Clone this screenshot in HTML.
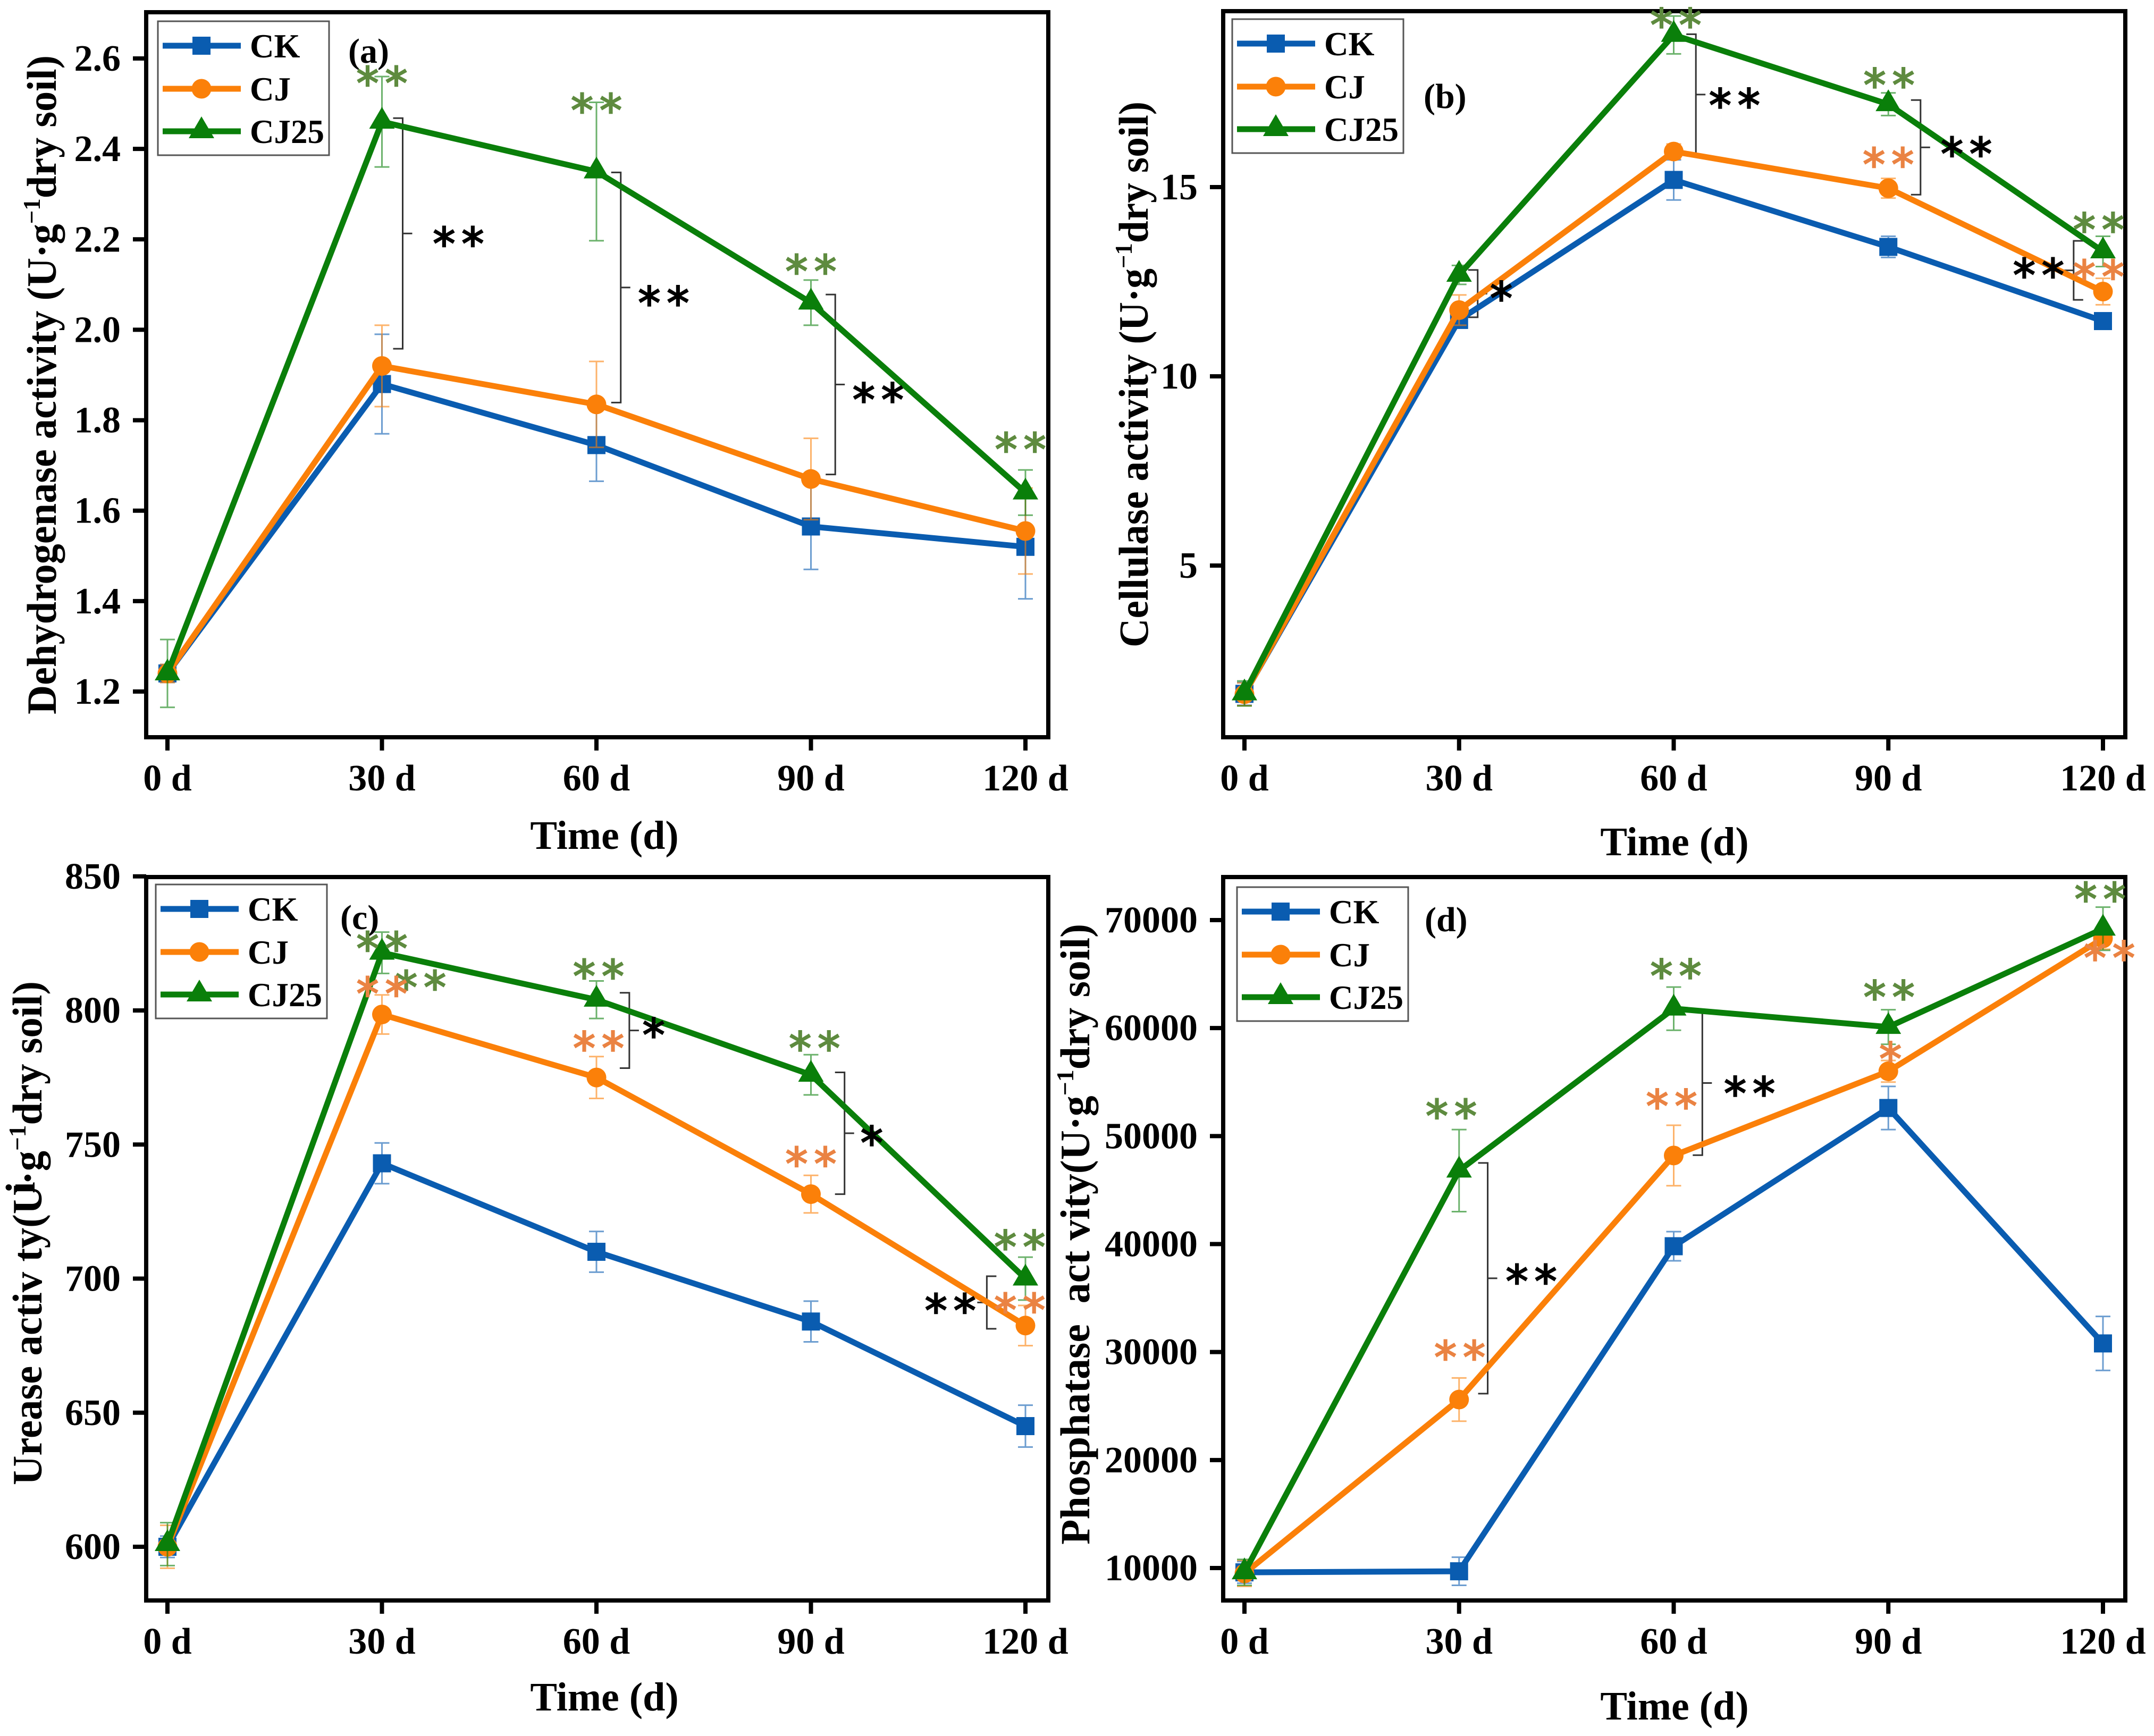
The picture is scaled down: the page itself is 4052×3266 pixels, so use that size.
<!DOCTYPE html>
<html lang="en">
<head>
<meta charset="utf-8">
<title>Soil enzyme activity charts</title>
<style>
html,body{margin:0;padding:0;background:#fff;}
svg{display:block;}
text{font-family:"Liberation Serif",serif;font-weight:bold;fill:#000;}
.star{font-family:"DejaVu Sans",sans-serif;font-weight:normal;font-size:84px;letter-spacing:12px;stroke-width:2.5px;}
.title{font-size:78px;}
.tick{font-size:70px;}
.time{font-size:76px;}
.leg{font-size:63px;}
.plab{font-size:66px;}
</style>
</head>
<body>
<svg id="fig" xmlns="http://www.w3.org/2000/svg" width="4052" height="3266" viewBox="0 0 4052 3266">
<rect x="0" y="0" width="4052" height="3266" fill="#fff"/>

<text class="title" transform="translate(105,1344) rotate(-90)" textLength="1240" lengthAdjust="spacingAndGlyphs">Dehydrogenase activity (U·g<tspan font-size="46" dy="-30">−1</tspan><tspan dy="30">dry soil)</tspan></text>
<text class="title" transform="translate(2159,1218) rotate(-90)" textLength="1027" lengthAdjust="spacingAndGlyphs">Cellulase activity (U·g<tspan font-size="46" dy="-30">−1</tspan><tspan dy="30">dry soil)</tspan></text>
<text class="title" transform="translate(78,2794) rotate(-90)" textLength="948" lengthAdjust="spacingAndGlyphs">Urease activ ty(U·g<tspan font-size="46" dy="-30">−1</tspan><tspan dy="30">dry soil)</tspan></text>
<text class="title" transform="translate(65,2245) rotate(-90)">i</text>
<text class="title" xml:space="preserve" transform="translate(2049,2906) rotate(-90)" textLength="1168" lengthAdjust="spacingAndGlyphs">Phosphatase  act vity(U·g<tspan font-size="46" dy="-30">−1</tspan><tspan dy="30">dry soil)</tspan></text>

<text class="time" x="1137" y="1597" text-anchor="middle">Time (d)</text>
<text class="time" x="3150" y="1609" text-anchor="middle">Time (d)</text>
<text class="time" x="1137" y="3218" text-anchor="middle">Time (d)</text>
<text class="time" x="3150" y="3235" text-anchor="middle">Time (d)</text>

<text class="plab" x="655" y="118">(a)</text>
<text class="plab" x="2678" y="203">(b)</text>
<text class="plab" x="640" y="1748">(c)</text>
<text class="plab" x="2680" y="1752">(d)</text>

<g id="plots"></g>
<g id="legends"></g>
</svg>

<script>
const days = [0, 30, 60, 90, 120];
const xTickLabels = ['0 d', '30 d', '60 d', '90 d', '120 d'];
const legendLabels = ['CK', 'CJ', 'CJ25'];

// Panel (a) dehydrogenase
const aTicks = [1.2, 1.4, 1.6, 1.8, 2.0, 2.2, 2.4, 2.6];
const aTickLabels = ['1.2', '1.4', '1.6', '1.8', '2.0', '2.2', '2.4', '2.6'];
const aCK = [1.24, 1.88, 1.745, 1.565, 1.52];
const aCJ = [1.24, 1.92, 1.835, 1.67, 1.555];
const aCJ25 = [1.24, 2.46, 2.35, 2.06, 1.64];
const aCKErr = [0.02, 0.11, 0.08, 0.095, 0.115];
const aCJErr = [0.02, 0.09, 0.095, 0.09, 0.095];
const aCJ25Err = [0.075, 0.10, 0.153, 0.05, 0.05];
const aGreenStars = [[30, 2.56, 2], [60, 2.50, 2], [90, 2.144, 2], [119.3, 1.75, 2]];
const aOrangeStars = [];
const aBlackStars = [[40.7, 2.205, 2], [69.4, 2.074, 2], [99.4, 1.86, 2]];
const aBrackets = [[32.9, 2.468, 1.958, 1], [63.4, 2.348, 1.839, 1], [93.4, 2.078, 1.68, 1]];

// Panel (b) cellulase
const bTicks = [5, 10, 15];
const bTickLabels = ['5', '10', '15'];
const bCK = [1.61, 11.49, 15.19, 13.42, 11.46];
const bCJ = [1.6, 11.75, 15.94, 14.97, 12.24];
const bCJ25 = [1.62, 12.68, 19.02, 17.19, 13.3];
const bCKErr = [0.3, 0.2, 0.53, 0.28, 0.15];
const bCJErr = [0.3, 0.4, 0.2, 0.26, 0.35];
const bCJ25Err = [0.33, 0.25, 0.5, 0.3, 0.4];
const bGreenStars = [[60.3, 19.46, 2], [90.1, 17.87, 2], [119.4, 14.05, 2]];
const bOrangeStars = [[90, 15.77, 2], [119.4, 12.81, 2]];
const bBlackStars = [[35.9, 12.24, 1], [68.5, 17.34, 2], [100.9, 16.05, 2], [111, 12.85, 2]];
const bBrackets = [[32.6, 12.81, 11.56, 1], [63.1, 19.04, 15.85, 1], [94.5, 17.3, 14.8, 1], [115.9, 13.58, 12.02, -1]];

// Panel (c) urease
const cTicks = [600, 650, 700, 750, 800, 850];
const cTickLabels = ['600', '650', '700', '750', '800', '850'];
const cCK = [600, 743, 710, 684, 645];
const cCJ = [600, 798.5, 775, 731.5, 682.5];
const cCJ25 = [601, 821.5, 804, 776, 700];
const cCKErr = [4, 7.6, 7.6, 7.6, 7.8];
const cCJErr = [8, 7.3, 7.8, 7, 7.5];
const cCJ25Err = [8, 7.7, 7, 7.5, 8];
const cGreenStars = [[30, 825.6, 2], [35.4, 811.1, 2], [60.3, 815.3, 2], [90.5, 788.4, 2], [119.2, 714.3, 2]];
const cOrangeStars = [[30, 808.7, 2], [60.3, 788.4, 2], [90, 745.3, 2], [119.2, 690.8, 2]];
const cBlackStars = [[68, 793.4, 1], [98.5, 753.1, 1], [109.5, 690.6, 2]];
const cBrackets = [[64.6, 806.6, 778.5, 1], [94.7, 776.9, 731.5, 1], [114.6, 700.9, 681.3, -1]];

// Panel (d) phosphatase
const dTicks = [10000, 20000, 30000, 40000, 50000, 60000, 70000];
const dTickLabels = ['10000', '20000', '30000', '40000', '50000', '60000', '70000'];
const dCK = [9600, 9700, 39800, 52600, 30800];
const dCJ = [9500, 25600, 48200, 56000, 68300];
const dCJ25 = [9600, 46800, 61800, 60100, 69200];
const dCKErr = [1000, 1300, 1350, 2000, 2500];
const dCJErr = [1200, 2000, 2800, 1000, 1000];
const dCJ25Err = [1200, 3800, 2000, 1600, 2000];
const dGreenStars = [[28.9, 52480, 2], [60.3, 65440, 2], [90.1, 63490, 2], [119.6, 72560, 2]];
const dOrangeStars = [[30.1, 30140, 2], [59.7, 53400, 2], [90.3, 57760, 1], [120.9, 67130, 2]];
const dBlackStars = [[40.1, 37160, 2], [70.6, 54580, 2]];
const dBrackets = [[34, 47510, 26150, 1], [64, 61600, 48230, 1]];

const NS = 'http://www.w3.org/2000/svg';
const BLUE = '#0a5cb0', ORANGE = '#fb8009', GREEN = '#0a7f0a';
const STAR_GREEN = '#5e8b3f', STAR_ORANGE = '#ea8343';

function make(parent, tag, name, attrs) {
  const el = document.createElementNS(NS, tag);
  
  
  for (const k in attrs) el.setAttribute(k, attrs[k]);
  parent.appendChild(el);
  return el;
}

function marker(parent, kind, cx, cy, color, name) {
  if (kind === 'square') {
    make(parent, 'rect', name, {x: cx - 17, y: cy - 17, width: 34, height: 34, fill: color});
  } else if (kind === 'circle') {
    make(parent, 'circle', name, {cx: cx, cy: cy, r: 18.5, fill: color});
  } else {
    make(parent, 'polygon', name, {points: (cx - 24) + ',' + (cy + 13) + ' ' + (cx + 24) + ',' + (cy + 13) + ' ' + cx + ',' + (cy - 28), fill: color});
  }
}

function drawPanel(key, box, ticks, tickLabels, series, greenStars, orangeStars, blackStars, brackets) {
  const root = document.getElementById('plots');
  const g = make(root, 'g', 'panel-' + key, {});
  const xScale = d => box.x0 + (d - days[0]) * (box.x1 - box.x0) / (days[days.length - 1] - days[0]);
  const yScale = v => box.py0 + (v - box.v0) * (box.py1 - box.py0) / (box.v1 - box.v0);

  ticks.forEach((t, i) => {
    const y = yScale(t);
    make(g, 'line', 'y-tick-' + key, {x1: box.left - 25, x2: box.left, y1: y, y2: y, stroke: '#000', 'stroke-width': 8});
    const tx = make(g, 'text', 'y-tick-label-' + key, {x: 227, y: y + 23, 'text-anchor': 'end', 'class': 'tick', transform: 'translate(' + (box.left - 275) + ',0)'});
    tx.textContent = tickLabels[i];
  });
  days.forEach((d, i) => {
    const x = xScale(d);
    make(g, 'line', 'x-tick-' + key, {x1: x, x2: x, y1: box.bottom, y2: box.bottom + 25, stroke: '#000', 'stroke-width': 8});
    const tx = make(g, 'text', 'x-tick-label-' + key, {x: x, y: box.bottom + 100, 'text-anchor': 'middle', 'class': 'tick'});
    tx.textContent = xTickLabels[i];
  });

  brackets.forEach(b => {
    const x = xScale(b[0]);
    const top = yScale(b[1]);
    const bot = yScale(b[2]);
    const dir = b[3];
    const end = 18 * dir;
    const mid = (top + bot) / 2;
    const d = 'M' + (x - end) + ' ' + top + ' L' + x + ' ' + top + ' L' + x + ' ' + bot + ' L' + (x - end) + ' ' + bot + ' M' + x + ' ' + mid + ' L' + (x + end) + ' ' + mid;
    make(g, 'path', 'significance-bracket-' + key, {d: d, fill: 'none', stroke: '#333', 'stroke-width': 3});
  });

  series.forEach(s => {
    const sg = make(g, 'g', 'series-' + s.name + '-' + key, {});
    const pts = s.values.map((v, i) => xScale(days[i]) + ',' + yScale(v)).join(' ');
    make(sg, 'polyline', 'line-' + s.name, {points: pts, fill: 'none', stroke: s.color, 'stroke-width': 11, 'stroke-linejoin': 'miter'});
    s.values.forEach((v, i) => {
      const x = xScale(days[i]);
      const hi = yScale(v + s.err[i]);
      const lo = yScale(v - s.err[i]);
      const d = 'M' + x + ' ' + hi + ' L' + x + ' ' + lo + ' M' + (x - 14) + ' ' + hi + ' L' + (x + 14) + ' ' + hi + ' M' + (x - 14) + ' ' + lo + ' L' + (x + 14) + ' ' + lo;
      make(sg, 'path', 'error-bar-' + s.name, {d: d, fill: 'none', stroke: s.color, 'stroke-width': 3, opacity: 0.6});
    });
    s.values.forEach((v, i) => {
      marker(sg, s.kind, xScale(days[i]), yScale(v), s.color, 'point-' + s.name);
    });
  });

  const starSets = [[greenStars, STAR_GREEN, 'green'], [orangeStars, STAR_ORANGE, 'orange'], [blackStars, '#000', 'black']];
  starSets.forEach(set => {
    set[0].forEach(st => {
      const tx = make(g, 'text', 'significance-stars-' + set[2], {x: xScale(st[0]) + 6, y: yScale(st[1]) + 42, 'text-anchor': 'middle', 'class': 'star'});
      tx.style.fill = set[1];
      tx.style.stroke = set[1];
      tx.textContent = st[2] === 2 ? '**' : '*';
    });
  });
}

function drawLegend(key, lx, ly) {
  const root = document.getElementById('legends');
  const g = make(root, 'g', 'legend-' + key, {});
  make(g, 'rect', 'legend-box', {x: lx, y: ly, width: 322, height: 252, fill: '#fff', stroke: '#555', 'stroke-width': 3});
  const colors = [BLUE, ORANGE, GREEN];
  const kinds = ['square', 'circle', 'triangle'];
  const rows = [46, 127, 207];
  legendLabels.forEach((label, i) => {
    const e = make(g, 'g', 'legend-entry-' + label, {});
    make(e, 'line', 'legend-line', {x1: lx + 9, x2: lx + 156, y1: ly + rows[i], y2: ly + rows[i], stroke: colors[i], 'stroke-width': 11});
    marker(e, kinds[i], lx + 82, ly + rows[i], colors[i], 'legend-marker');
    const tx = make(e, 'text', 'legend-label', {x: lx + 173, y: ly + rows[i] + 22, 'class': 'leg'});
    tx.textContent = label;
  });
}

function frame(key, box) {
  make(document.getElementById('plots'), 'rect', 'plot-frame-' + key, {x: box.left, y: box.top, width: box.right - box.left, height: box.bottom - box.top, fill: 'none', stroke: '#000', 'stroke-width': 8});
}

function mkSeries(ck, cj, cj25, ckE, cjE, cj25E) {
  return [
    {name: 'ck', values: ck, err: ckE, color: BLUE, kind: 'square'},
    {name: 'cj', values: cj, err: cjE, color: ORANGE, kind: 'circle'},
    {name: 'cj25', values: cj25, err: cj25E, color: GREEN, kind: 'triangle'}
  ];
}

const boxA = {left: 275, right: 1972, top: 23, bottom: 1387, x0: 315, x1: 1929, v0: 1.2, py0: 1301, v1: 2.6, py1: 110};
const boxB = {left: 2301, right: 3998, top: 21, bottom: 1387, x0: 2341, x1: 3956, v0: 5, py0: 1064, v1: 15, py1: 352};
const boxC = {left: 275, right: 1972, top: 1650, bottom: 3011, x0: 315, x1: 1929, v0: 600, py0: 2910, v1: 800, py1: 1901};
const boxD = {left: 2301, right: 3998, top: 1650, bottom: 3011, x0: 2341, x1: 3956, v0: 10000, py0: 2950, v1: 70000, py1: 1731};

frame('a', boxA); frame('b', boxB); frame('c', boxC); frame('d', boxD);
drawPanel('a', boxA, aTicks, aTickLabels, mkSeries(aCK, aCJ, aCJ25, aCKErr, aCJErr, aCJ25Err), aGreenStars, aOrangeStars, aBlackStars, aBrackets);
drawPanel('b', boxB, bTicks, bTickLabels, mkSeries(bCK, bCJ, bCJ25, bCKErr, bCJErr, bCJ25Err), bGreenStars, bOrangeStars, bBlackStars, bBrackets);
drawPanel('c', boxC, cTicks, cTickLabels, mkSeries(cCK, cCJ, cCJ25, cCKErr, cCJErr, cCJ25Err), cGreenStars, cOrangeStars, cBlackStars, cBrackets);
drawPanel('d', boxD, dTicks, dTickLabels, mkSeries(dCK, dCJ, dCJ25, dCKErr, dCJErr, dCJ25Err), dGreenStars, dOrangeStars, dBlackStars, dBrackets);
drawLegend('a', 297, 40);
drawLegend('b', 2318, 36);
drawLegend('c', 293, 1664);
drawLegend('d', 2327, 1669);
</script>
</body>
</html>
